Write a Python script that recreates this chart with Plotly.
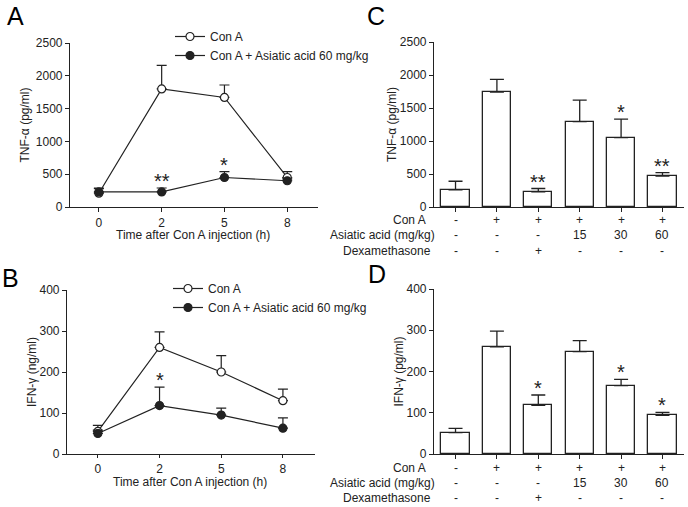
import plotly.graph_objects as go

W, H = 688, 507
FONT = "Liberation Sans, Arial, sans-serif"
INK = "#222222"

# ---------------- data ----------------
time_labels = ["0", "2", "5", "8"]

tnf_cona = [210, 1800, 1670, 450]
tnf_cona_err = [70, 360, 190, 90]
tnf_aa = [230, 230, 450, 400]
tnf_aa_err = [60, 60, 90, 30]
tnf_time_stars = ["", "**", "*", ""]

ifn_cona = [55, 260, 200, 130]
ifn_cona_err = [15, 38, 40, 28]
ifn_aa = [50, 118, 95, 63]
ifn_aa_err = [8, 45, 17, 25]
ifn_time_stars = ["", "*", "", ""]

conA_row = ["-", "+", "+", "+", "+", "+"]
aa_row = ["-", "-", "-", "15", "30", "60"]
dex_row = ["-", "-", "+", "-", "-", "-"]
row_names = ["Con A", "Asiatic acid (mg/kg)", "Dexamethasone"]

tnf_bar = [260, 1740, 230, 1295, 1050, 470]
tnf_bar_err = [130, 195, 50, 325, 280, 50]
tnf_bar_stars = ["", "", "**", "", "*", "**"]

ifn_bar = [52, 260, 118, 248, 166, 94]
ifn_bar_err = [10, 38, 25, 27, 15, 7]
ifn_bar_stars = ["", "", "*", "", "*", "*"]

legend_names = ["Con A", "Con A + Asiatic acid 60 mg/kg"]
x_title = "Time after Con A injection (h)"


def xd(a, b):
    return [a / W, b / W]


def yd(top, bottom):
    return [1 - bottom / H, 1 - top / H]


fig = go.Figure()

tpos = list(range(len(time_labels)))
bpos = list(range(len(tnf_bar)))


def line_trace(y, err, filled, name, xa, ya, lg):
    return go.Scatter(
        x=tpos, y=y, mode="lines+markers", name=name,
        line=dict(color=INK, width=1.2),
        marker=dict(symbol="circle", size=8, color=INK if filled else "white",
                    line=dict(color=INK, width=1.2)),
        error_y=dict(type="data", symmetric=False, array=err, arrayminus=[0] * len(err),
                     color=INK, thickness=1.2, width=5),
        xaxis=xa, yaxis=ya, legend=lg)


fig.add_trace(line_trace(tnf_cona, tnf_cona_err, False, legend_names[0], "x", "y", "legend"))
fig.add_trace(line_trace(tnf_aa, tnf_aa_err, True, legend_names[1], "x", "y", "legend"))
fig.add_trace(line_trace(ifn_cona, ifn_cona_err, False, legend_names[0], "x2", "y2", "legend2"))
fig.add_trace(line_trace(ifn_aa, ifn_aa_err, True, legend_names[1], "x2", "y2", "legend2"))


def bar_trace(y, err, xa, ya):
    return go.Bar(
        x=bpos, y=y, width=0.68, marker=dict(color="white", line=dict(color=INK, width=1.3)),
        error_y=dict(type="data", symmetric=False, array=err, arrayminus=[0] * len(err),
                     color=INK, thickness=1.3, width=7),
        xaxis=xa, yaxis=ya, showlegend=False)


fig.add_trace(bar_trace(tnf_bar, tnf_bar_err, "x3", "y3"))
fig.add_trace(bar_trace(ifn_bar, ifn_bar_err, "x4", "y4"))

FS = 12
axis_common = dict(showline=True, linecolor=INK, linewidth=1.2, showgrid=False, zeroline=False,
                   ticks="outside", ticklen=4, tickwidth=1.2, tickcolor=INK, automargin=False,
                   tickfont=dict(family=FONT, size=FS, color=INK))
title_font = dict(family=FONT, size=FS, color=INK)

fig.update_layout(
    width=W, height=H, margin=dict(l=0, r=0, t=0, b=0, autoexpand=False),
    paper_bgcolor="white", plot_bgcolor="white",
    font=dict(family=FONT, size=FS, color=INK),
    xaxis=dict(domain=xd(70, 318), range=[-0.46, 3.49], tickvals=tpos, ticktext=time_labels,
               anchor="y", **axis_common),
    yaxis=dict(domain=yd(43, 207), range=[0, 2500], dtick=500, anchor="x",
               title=dict(text="TNF-α (pg/ml)", font=title_font, standoff=3), **axis_common),
    xaxis2=dict(domain=xd(67, 315), range=[-0.5, 3.52], tickvals=tpos, ticktext=time_labels,
                anchor="y2", **{**axis_common, "ticklen": 3}),
    yaxis2=dict(domain=yd(290, 454), range=[0, 400], dtick=100, anchor="x2",
                title=dict(text="IFN-γ (ng/ml)", font=title_font, standoff=0), **axis_common),
    xaxis3=dict(domain=xd(434, 684), range=[-0.52, 5.52], tickvals=bpos, showticklabels=False,
                anchor="y3", **axis_common),
    yaxis3=dict(domain=yd(42, 207), range=[0, 2500], dtick=500, anchor="x3",
                title=dict(text="TNF-α (pg/ml)", font=title_font, standoff=0), **axis_common),
    xaxis4=dict(domain=xd(434, 684), range=[-0.52, 5.52], tickvals=bpos, showticklabels=False,
                anchor="y4", **axis_common),
    yaxis4=dict(domain=yd(289, 454), range=[0, 400], dtick=100, anchor="x4",
                title=dict(text="IFN-γ (pg/ml)", font=title_font, standoff=0), **axis_common),
    legend=dict(x=170 / W, y=1 - 22 / H, xanchor="left", yanchor="top", bgcolor="rgba(0,0,0,0)",
                font=dict(family=FONT, size=FS, color=INK), itemwidth=30, tracegroupgap=0),
    legend2=dict(x=168 / W, y=1 - 274 / H, xanchor="left", yanchor="top", bgcolor="rgba(0,0,0,0)",
                 font=dict(family=FONT, size=FS, color=INK), itemwidth=30, tracegroupgap=0),
    bargap=0,
)

ann = []
for letter, (cx, ty) in zip("ABCD", [(15, 0), (10, 262), (376, 0), (377, 258)]):
    ann.append(dict(text=letter, x=cx / W, y=1 - ty / H, xref="paper", yref="paper",
                    xanchor="center", yanchor="top", showarrow=False,
                    font=dict(family=FONT, size=25, color="black")))

# x-axis titles of the time-course panels
for xa, cy in [("x", 235), ("x2", 482)]:
    ann.append(dict(text=x_title, x=1.5, y=1 - cy / H, xref=xa, yref="paper",
                    xanchor="center", yanchor="middle", showarrow=False, font=title_font))

STAR = dict(family=FONT, size=20, color=INK)


def add_stars(stars, vals, errs, xa, ya):
    for i, s in enumerate(stars):
        if s:
            ann.append(dict(text=s, x=i, y=vals[i] + errs[i], xref=xa, yref=ya,
                            xanchor="center", yanchor="bottom", yshift=-6, showarrow=False,
                            font=STAR))


add_stars(tnf_time_stars, tnf_aa, tnf_aa_err, "x", "y")
add_stars(ifn_time_stars, ifn_aa, ifn_aa_err, "x2", "y2")
add_stars(tnf_bar_stars, tnf_bar, tnf_bar_err, "x3", "y3")
add_stars(ifn_bar_stars, ifn_bar, ifn_bar_err, "x4", "y4")

label_right = [428, 437, 433]
for xa, rows_y in [("x3", [220, 235, 251]), ("x4", [468, 483, 498])]:
    for r, (name, row) in enumerate(zip(row_names, [conA_row, aa_row, dex_row])):
        ann.append(dict(text=name, x=label_right[r] / W, y=1 - rows_y[r] / H, xref="paper", yref="paper",
                        xanchor="right", yanchor="middle", showarrow=False,
                        font=dict(family=FONT, size=FS, color=INK)))
        for i, v in enumerate(row):
            ann.append(dict(text=v, x=i, y=1 - rows_y[r] / H, xref=xa, yref="paper",
                            xanchor="center", yanchor="middle", showarrow=False,
                            font=dict(family=FONT, size=FS, color=INK)))

fig.update_layout(annotations=ann)
fig.write_html("out.html", config={"displayModeBar": False},
               post_script="document.body.style.margin='0';document.body.style.padding='0';")
